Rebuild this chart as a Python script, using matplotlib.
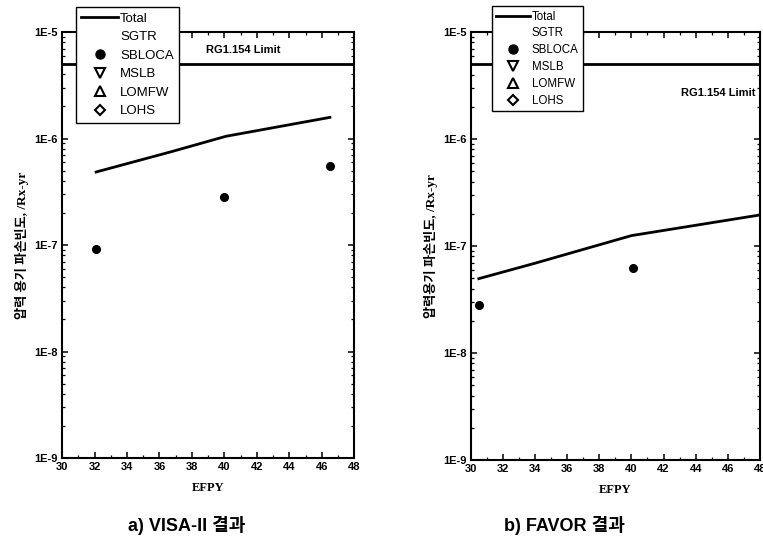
import matplotlib
matplotlib.use("Agg")
import matplotlib.pyplot as plt
from matplotlib.lines import Line2D
from matplotlib.ticker import FixedLocator, NullFormatter, MultipleLocator

# ---------------- data ----------------
series_names = ["Total", "SGTR", "SBLOCA", "MSLB", "LOMFW", "LOHS"]
limit_value = 5e-6
limit_label = "RG1.154 Limit"

# a) VISA-II
visa_total_x = [32.1, 36.7, 40.1, 46.5]
visa_total_y = [4.85e-7, 7.5e-7, 1.05e-6, 1.58e-6]
visa_sbloca_x = [32.1, 40.0, 46.5]
visa_sbloca_y = [9.1e-8, 2.8e-7, 5.5e-7]

# b) FAVOR
favor_total_x = [30.5, 34.0, 40.0, 48.0]
favor_total_y = [4.95e-8, 6.9e-8, 1.25e-7, 1.95e-7]
favor_sbloca_x = [30.5, 40.1]
favor_sbloca_y = [2.8e-8, 6.2e-8]

# empty series (legend only)
sgtr_x, sgtr_y = [], []
mslb_x, mslb_y = [], []
lomfw_x, lomfw_y = [], []
lohs_x, lohs_y = [], []

x_ticks = [30, 32, 34, 36, 38, 40, 42, 44, 46, 48]
y_ticks = [1e-9, 1e-8, 1e-7, 1e-6, 1e-5]
y_tick_labels = ["1E-9", "1E-8", "1E-7", "1E-6", "1E-5"]
xlabel = "EFPY"
ylabels = ["압력 용기 파손빈도, /Rx-yr", "압력용기 파손빈도, /Rx-yr"]
captions = ["a) VISA-II 결과", "b) FAVOR 결과"]

# ---------------- figure ----------------
fig = plt.figure(figsize=(7.63, 5.43), dpi=100)
ax1 = fig.add_axes([0.0813, 0.1565, 0.3830, 0.7845])
ax2 = fig.add_axes([0.6170, 0.1530, 0.3790, 0.7880])

sans = ["Liberation Sans", "Noto Sans CJK KR"]
serif = ["Liberation Serif", "Noto Sans CJK KR"]


def style_axis(ax, ylabel):
    ax.set_yscale("log")
    ax.set_xlim(30, 48)
    ax.set_ylim(1e-9, 1e-5)
    ax.set_xticks(x_ticks)
    ax.xaxis.set_minor_locator(MultipleLocator(1))
    ax.yaxis.set_major_locator(FixedLocator(y_ticks))
    ax.set_yticklabels(y_tick_labels)
    ax.yaxis.set_minor_formatter(NullFormatter())
    for s in ax.spines.values():
        s.set_linewidth(1.5)
    ax.tick_params(which="both", direction="in", top=True, right=True)
    ax.tick_params(which="major", length=4, width=1.1, labelsize=8, pad=3)
    ax.tick_params(which="minor", length=2.5, width=0.9)
    for lab in ax.get_xticklabels() + ax.get_yticklabels():
        lab.set_fontfamily(sans)
        lab.set_fontweight("bold")
    ax.set_xlabel(xlabel, family=serif, fontweight="bold", fontsize=9, labelpad=7)
    ax.set_ylabel(ylabel, family=serif, fontweight="bold", fontsize=9.5, labelpad=4)
    ax.axhline(limit_value, color="black", lw=2)


def draw(ax, tx, ty, sx, sy):
    ax.plot(tx, ty, color="black", lw=2)
    ax.plot(sgtr_x, sgtr_y, ls="none", marker="None")
    ax.plot(sx, sy, ls="none", marker="o", ms=5.5, color="black")
    ax.plot(mslb_x, mslb_y, ls="none", marker="v", mfc="white", mec="black")
    ax.plot(lomfw_x, lomfw_y, ls="none", marker="^", mfc="white", mec="black")
    ax.plot(lohs_x, lohs_y, ls="none", marker="D", mfc="white", mec="black")


style_axis(ax1, ylabels[0])
style_axis(ax2, ylabels[1])
draw(ax1, visa_total_x, visa_total_y, visa_sbloca_x, visa_sbloca_y)
draw(ax2, favor_total_x, favor_total_y, favor_sbloca_x, favor_sbloca_y)

ax1.text(0.62, 0.97, limit_label, transform=ax1.transAxes, ha="center", va="top",
         family=sans, fontweight="bold", fontsize=8)
ax2.text(0.985, 0.87, limit_label, transform=ax2.transAxes, ha="right", va="top",
         family=sans, fontweight="bold", fontsize=8)

handles = [
    Line2D([], [], color="black", lw=2),
    Line2D([], [], ls="none", marker="None"),
    Line2D([], [], ls="none", marker="o", ms=6.5, color="black"),
    Line2D([], [], ls="none", marker="v", ms=6.5, mfc="white", mec="black", mew=1.5),
    Line2D([], [], ls="none", marker="^", ms=6.5, mfc="white", mec="black", mew=1.5),
    Line2D([], [], ls="none", marker="D", ms=5.5, mfc="white", mec="black", mew=1.5),
]

for ax, anchor, fs, ls, hl in [(ax1, (0.0996, 0.987), 9.5, 0.48, 2.8),
                               (ax2, (0.6445, 0.989), 8.3, 0.42, 2.9)]:
    leg = ax.legend(handles, series_names, loc="upper left", bbox_to_anchor=anchor,
                    bbox_transform=fig.transFigure, borderaxespad=0,
                    prop={"family": sans, "size": fs}, frameon=True, fancybox=False,
                    edgecolor="black", framealpha=1, handlelength=hl,
                    handletextpad=0.15, labelspacing=ls, borderpad=0.4)
    leg.get_frame().set_linewidth(1.0)

fig.text(0.245, 0.015, captions[0], ha="center", va="bottom", family=sans,
         fontweight="bold", fontsize=13)
fig.text(0.74, 0.015, captions[1], ha="center", va="bottom", family=sans,
         fontweight="bold", fontsize=13)

fig.savefig("out.png", dpi=100)
